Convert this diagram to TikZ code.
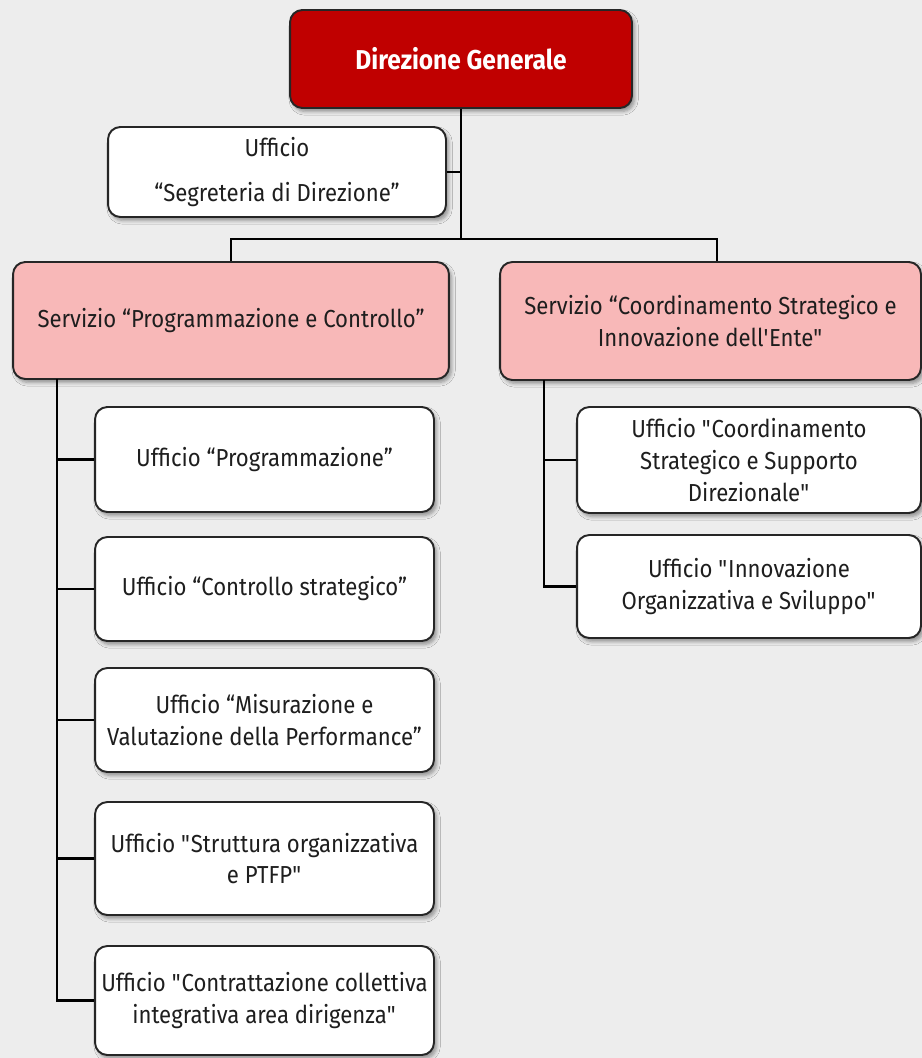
\documentclass[tikz,border=0pt]{standalone}
\usepackage{fontspec}
\setmainfont{Fira Sans}[FakeStretch=0.9]
\usepackage{tikz}
\usetikzlibrary{calc}
\usetikzlibrary{shadows.blur}
\definecolor{dirred}{HTML}{C00000}
\definecolor{servpink}{HTML}{F8B8B8}
\definecolor{sfondo}{HTML}{EDEDED}
\definecolor{testo}{HTML}{1E1E1E}

\begin{document}
\begin{tikzpicture}
	[x=0.02cm, y=-0.02cm,
	 box/.style={draw=black!85, line width=1.1pt, rounded corners=7pt, align=center, inner sep=0pt, text=testo,
	   font=\fontsize{14}{18}\selectfont,
	   blur shadow={shadow xshift=1.5pt, shadow yshift=-2pt, shadow blur steps=5, shadow opacity=40}},
	 dirbox/.style={box, fill=dirred, text=white, font=\fontsize{15.5}{18}\selectfont\bfseries},
	 servbox/.style={box, fill=servpink},
	 uffbox/.style={box, fill=white},
	 link/.style={line width=1.2pt, black}]
	\fill[sfondo] (0,0) rectangle (922,1058);
	\useasboundingbox (0,0) rectangle (922,1058);
	% vertice
	\node[dirbox, minimum width=6.84cm, minimum height=1.96cm] (dirgen) at (461,59) {Direzione Generale};
	\node[uffbox, minimum width=6.76cm, minimum height=1.8cm] (segr) at (277,172) {Ufficio\\[8pt]“Segreteria di Direzione”};
	% servizi
	\node[servbox, minimum width=8.72cm, minimum height=2.34cm] (servpc) at (231,320.5) {Servizio “Programmazione e Controllo”};
	\node[servbox, minimum width=8.42cm, minimum height=2.36cm] (servcs) at (710.5,321) {Servizio “Coordinamento Strategico e\\Innovazione dell\textquotesingle Ente\textquotedbl};
	% uffici a sinistra
	\node[uffbox, minimum width=6.78cm, minimum height=2.1cm] (uprog) at (264.5,459.5) {Ufficio “Programmazione”};
	\node[uffbox, minimum width=6.78cm, minimum height=2.08cm] (uctrl) at (264.5,589) {Ufficio “Controllo strategico”};
	\node[uffbox, minimum width=6.78cm, minimum height=2.08cm] (umis) at (264.5,720) {Ufficio “Misurazione e\\Valutazione della Performance”};
	\node[uffbox, minimum width=6.78cm, minimum height=2.26cm] (ustrut) at (264.5,858.5) {Ufficio \textquotedbl Struttura organizzativa\\e PTFP\textquotedbl};
	\node[uffbox, minimum width=6.78cm, minimum height=2.18cm] (ucontr) at (264.5,1000.5) {Ufficio \textquotedbl Contrattazione collettiva\\integrativa area dirigenza\textquotedbl};
	% uffici a destra
	\node[uffbox, minimum width=6.88cm, minimum height=2.12cm] (ucoord) at (749,460) {Ufficio \textquotedbl Coordinamento\\Strategico e Supporto\\Direzionale\textquotedbl};
	\node[uffbox, minimum width=6.88cm, minimum height=2.06cm] (uinnov) at (749,586.5) {Ufficio \textquotedbl Innovazione\\Organizzativa e Sviluppo\textquotedbl};
	% collegamenti
	\coordinate (bus) at (461,239);
	\coordinate (busR) at (717,239);
	\coordinate (ltrunk) at (57,379);
	\coordinate (rtrunk) at (544,380);
	\draw[link] (dirgen.south) -- (dirgen.south |- bus);
	\draw[link] (segr.east) -- (segr.east -| dirgen.south);
	\draw[link] (servpc.north) |- (busR) -- (busR |- servcs.north);
	\draw[link] (ltrunk) |- (ucontr.west);
	\foreach \n in {uprog,uctrl,umis,ustrut}
		\draw[link] (\n.west) -- (\n.west -| ltrunk);
	\draw[link] (rtrunk) |- (uinnov.west);
	\draw[link] (ucoord.west) -- (ucoord.west -| rtrunk);
\end{tikzpicture}
\end{document}
